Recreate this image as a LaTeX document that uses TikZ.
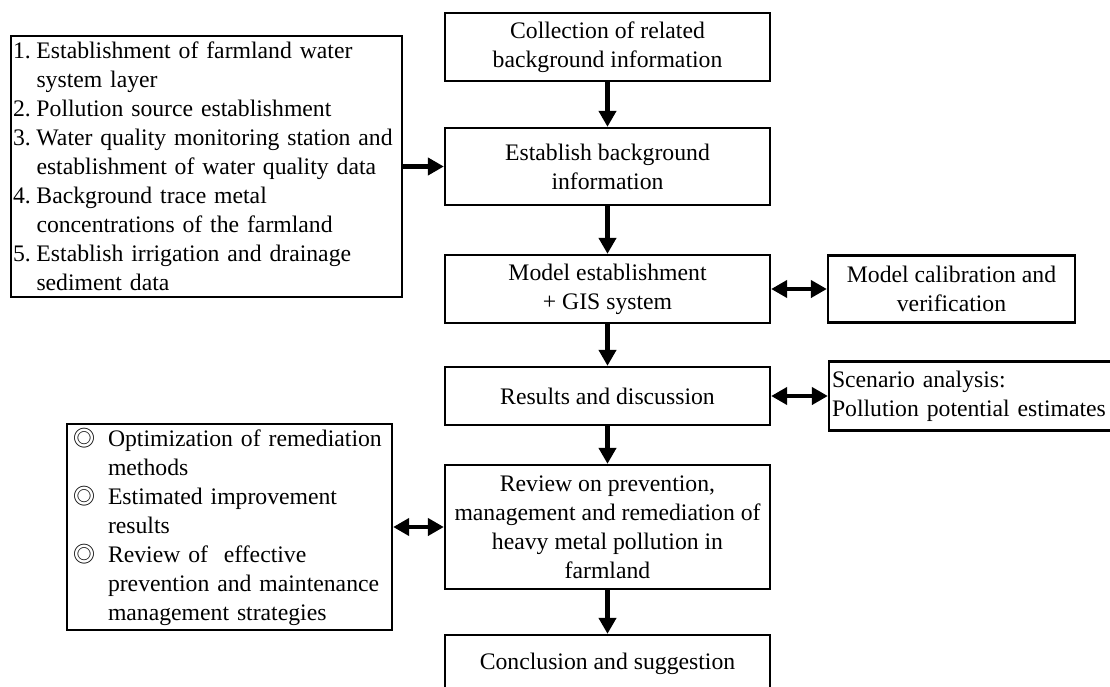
\documentclass[tikz,border=0pt]{standalone}
\usepackage{fontspec}
\setmainfont{Liberation Serif}
\newfontfamily\ringfont{Noto Sans CJK SC}
\usetikzlibrary{arrows.meta}

\newcommand{\ring}{\makebox[35pt][l]{\ringfont\fontsize{22}{29}\selectfont ◎}}
\newcommand{\skipring}{\hspace*{35pt}}
\newcommand{\num}[1]{\makebox[23.5pt][l]{#1.}}
\newcommand{\skipnum}{\hspace*{23.5pt}}

\begin{document}
\begin{tikzpicture}[x=1pt,y=-1pt,
  box/.style={draw,line width=2.3pt,inner sep=0pt,align=center,font=\fontsize{23.7}{29}\selectfont},
  listbox/.style={box,align=left,inner xsep=6pt},
  flow/.style={line width=4.8pt,-{Triangle[length=16pt,width=17pt]}},
  both/.style={line width=4.8pt,{Triangle[length=16pt,width=17pt]}-{Triangle[length=16pt,width=17pt]}}]
\useasboundingbox (0,0) rectangle (1110,687);
% main column
\node[box,minimum width=325pt,minimum height=68pt] (coll) at (607.5,47) {Collection of related\\background information};
\node[box,minimum width=325pt,minimum height=77pt] (bgi) at (607.5,166.5) {Establish background\\information};
\node[box,minimum width=325pt,minimum height=68pt] (model) at (607.5,289) {Model establishment\\+ GIS system};
\node[box,minimum width=325pt,minimum height=58pt] (res) at (607.5,396) {Results and discussion};
\node[box,minimum width=325pt,minimum height=124pt] (review) at (607.5,527) {Review on prevention,\\management and remediation of\\heavy metal pollution in\\farmland};
\node[box,minimum width=325pt,minimum height=58pt] (concl) at (607.5,664) {Conclusion and suggestion};
% side boxes
\node[box,minimum width=247pt,minimum height=67pt] (calib) at (951.5,289) {Model calibration and\\verification};
\node[listbox,inner xsep=3pt,text width=278pt,minimum height=69pt] (scen) at (971,396) {Scenario analysis:\\Pollution potential estimates};
\node[listbox,inner xsep=2pt,text width=387pt,minimum height=261pt] (steps) at (206.5,166.5) {\num{1}Establishment of farmland water\\\skipnum system layer\\\num{2}Pollution source establishment\\\num{3}Water quality monitoring station and\\\skipnum establishment of water quality data\\\num{4}Background trace metal\\\skipnum concentrations of the farmland\\\num{5}Establish irrigation and drainage\\\skipnum sediment data};
\node[listbox,text width=313pt,minimum height=206pt] (notes) at (229.5,527) {\ring Optimization of remediation\\\skipring methods\\\ring Estimated improvement\\\skipring results\\\ring Review of~ effective\\\skipring prevention and maintenance\\\skipring management strategies};
% connectors
\draw[flow] (coll) -- (bgi);
\draw[flow] (bgi) -- (model);
\draw[flow] (model) -- (res);
\draw[flow] (res) -- (review);
\draw[flow] (review) -- (concl);
\draw[flow] (steps) -- (bgi);
\draw[both] (model) -- (calib);
\draw[both] (res) -- (scen);
\draw[both] (notes) -- (review);
\end{tikzpicture}
\end{document}
